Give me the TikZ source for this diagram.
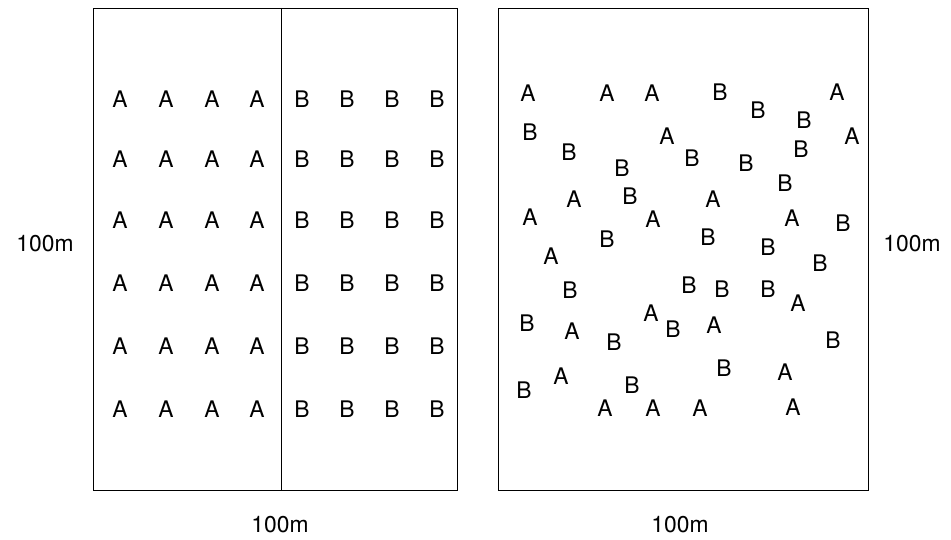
\documentclass[tikz,border=0pt]{standalone}
\usepackage{fontspec}
\setmainfont{TeX Gyre Heros}
\begin{document}
\begin{tikzpicture}[x=0.02cm, y=-0.02cm, lbl/.style={font=\fontsize{13}{15}\selectfont, inner sep=0pt}]
\useasboundingbox (0,0) rectangle (951,540);
\draw[thin] (93,8) rectangle (457,490);
\draw[thin] (498,8) rectangle (868,490);
\draw[very thin] (281,8) -- (281,490);
% regular layout
\foreach \r/\y in {1/99, 2/159, 3/220, 4/283, 5/346, 6/409} {
  \foreach \c/\x in {1/120, 2/166, 3/212, 4/257}
    \node[lbl] (a\r\c) at (\x,\y) {A};
  \foreach \c/\x in {1/302, 2/347, 3/392, 4/437}
    \node[lbl] (b\r\c) at (\x,\y) {B};
}
% random layout
\foreach \x/\y [count=\i] in {528/93, 607/93, 652/93, 837/92, 852/136, 667/136, 574/199, 713/199,
  530/217, 653/219, 792/218, 551/256, 798/303, 572/331, 651/313, 714/325,
  785/372, 561/376, 605/408, 653/408, 700/408, 793/407}
  \node[lbl] (ra\i) at (\x,\y) {A};
\foreach \x/\y [count=\i] in {720/92, 758/110, 804/120, 530/132, 569/152, 692/158, 746/163, 801/149,
  622/168, 785/183, 630/196, 843/223, 607/239, 708/237, 768/247, 820/263,
  570/290, 689/285, 722/289, 768/289, 527/323, 673/329, 614/342, 833/340,
  724/368, 524/390, 632/385}
  \node[lbl] (rb\i) at (\x,\y) {B};
% dimensions
\node[lbl] (hl) at (45,244) {100m};
\node[lbl] (hr) at (912,244) {100m};
\node[lbl] (wl) at (280,525) {100m};
\node[lbl] (wr) at (680,525) {100m};
\end{tikzpicture}
\end{document}
